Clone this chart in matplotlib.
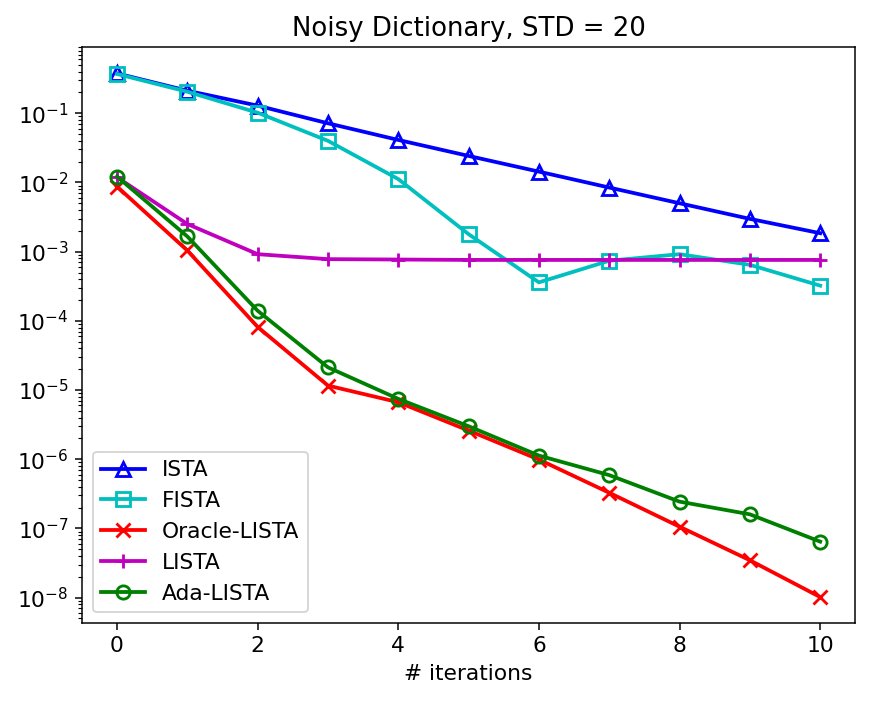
import matplotlib
matplotlib.use("Agg")
import matplotlib.pyplot as plt

iterations = list(range(11))

ista = [0.377, 0.212, 0.129, 0.0717, 0.0412, 0.0242, 0.01435, 0.00845, 0.00501, 0.00298, 0.00185]
fista = [0.37, 0.205, 0.102, 0.040, 0.0112, 0.00179, 0.00036, 0.00074, 0.00092, 0.000646, 0.000323]
oracle_lista = [0.00873, 0.00104, 8.17e-5, 1.16e-5, 6.67e-6, 2.6e-6, 9.9e-7, 3.28e-7, 1.06e-7, 3.47e-8, 1.02e-8]
lista = [0.0119, 0.00251, 0.00092, 0.00078, 0.00077, 0.00076, 0.00076, 0.00076, 0.00076, 0.00076, 0.00076]
ada_lista = [0.01217, 0.00166, 1.4e-4, 2.13e-5, 7.46e-6, 3.0e-6, 1.13e-6, 5.9e-7, 2.44e-7, 1.6e-7, 6.45e-8]

plt.rcParams["font.size"] = 11.5

fig = plt.figure(figsize=(871 / 136, 705 / 136), dpi=136)
ax = fig.add_subplot(111)
fig.subplots_adjust(left=0.094, right=0.982, top=0.933, bottom=0.116)

style = dict(mfc="none", mew=1.5, lw=2, ms=7)
ax.plot(iterations, ista, "b-^", label="ISTA", **style)
ax.plot(iterations, fista, "c-s", label="FISTA", **style)
ax.plot(iterations, oracle_lista, "r-x", label="Oracle-LISTA", **style)
ax.plot(iterations, lista, "m-+", label="LISTA", **style)
ax.plot(iterations, ada_lista, "g-o", label="Ada-LISTA", **style)

ax.set_yscale("log")
ax.set_xticks([0, 2, 4, 6, 8, 10])
ax.set_title("Noisy Dictionary, STD = 20")
ax.set_xlabel("# iterations")
ax.legend(loc="lower left")

plt.savefig("out.png", dpi=136)
plt.close()
